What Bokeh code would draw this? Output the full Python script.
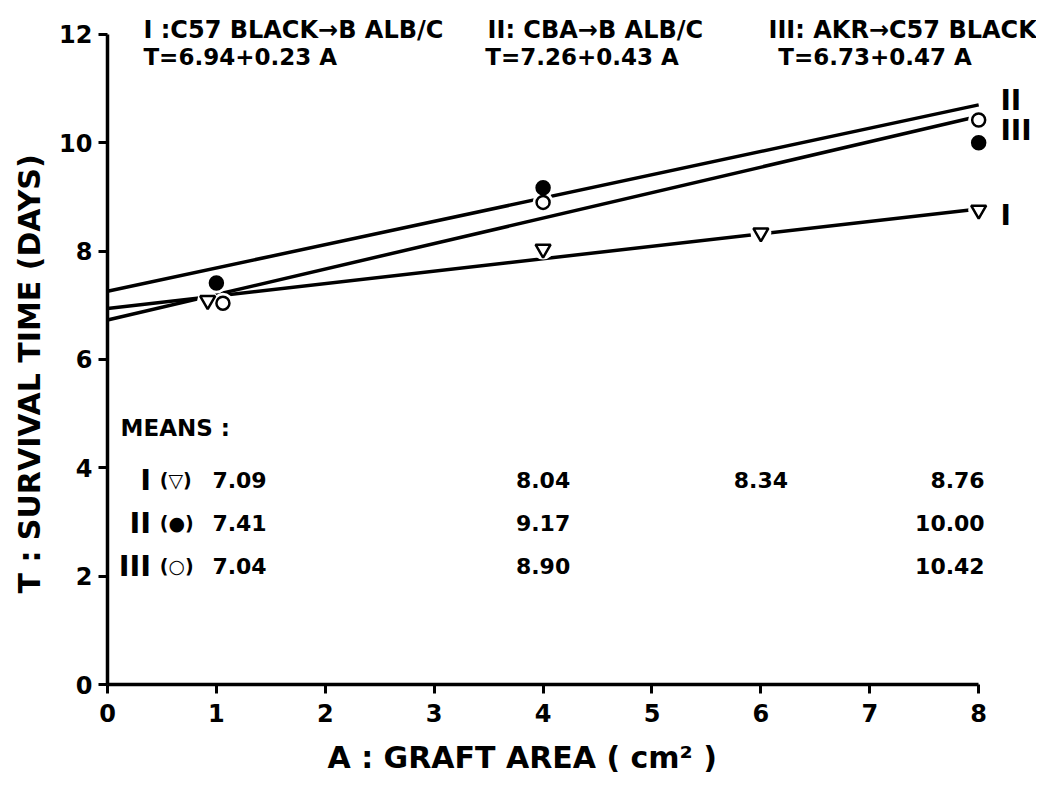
from bokeh.plotting import figure
from bokeh.models import Range1d, FixedTicker, Title
from bokeh.core.properties import value
from bokeh.embed import file_html
from bokeh.resources import INLINE

# ---------------- data ----------------
series = ["I", "II", "III"]
headers = ["I :C57 BLACK\u2192B ALB/C", "II: CBA\u2192B ALB/C", "III: AKR\u2192C57 BLACK"]
intercepts = [6.94, 7.26, 6.73]
slopes = [0.23, 0.43, 0.47]
symbols = ["\u25bd", "\u25cf", "\u25cb"]

A_I = [1, 4, 6, 8]
T_I = [7.09, 8.04, 8.34, 8.76]
A_II = [1, 4, 8]
T_II = [7.41, 9.17, 10.00]
A_III = [1, 4, 8]
T_III = [7.04, 8.90, 10.42]

x_ticks = [0, 1, 2, 3, 4, 5, 6, 7, 8]
y_ticks = [0, 2, 4, 6, 8, 10, 12]

FONT = "DejaVu Sans"
BLACK = "#000000"

p = figure(width=1036, height=788, x_range=Range1d(0, 8.531), y_range=Range1d(0, 12.627),
           output_backend="svg", toolbar_location=None,
           min_border_left=107, min_border_right=0, min_border_top=0, min_border_bottom=104)
p.outline_line_color = None
p.xgrid.visible = False
p.ygrid.visible = False

for ax, ticks, bounds in ((p.xaxis, x_ticks, (0, 8)), (p.yaxis, y_ticks, (0, 12))):
    ax.ticker = FixedTicker(ticks=ticks)
    ax.bounds = bounds
    ax.axis_line_width = 3.5
    ax.axis_line_color = BLACK
    ax.major_tick_line_width = 3
    ax.major_tick_line_color = BLACK
    ax.major_tick_out = 9
    ax.major_tick_in = 0
    ax.minor_tick_line_color = None
    ax.major_label_text_font = FONT
    ax.major_label_text_font_style = "bold"
    ax.major_label_text_font_size = "24px"
    ax.major_label_text_color = BLACK

p.xaxis.major_label_standoff = 10
p.yaxis.major_label_standoff = 6

# axis titles (off-centre, as in the original)
p.add_layout(Title(text="A : GRAFT AREA  ( cm\u00b2 )", align="left", offset=220, standoff=26,
                   text_font=FONT, text_font_style="bold", text_font_size="30px",
                   text_color=BLACK), "below")
p.add_layout(Title(text="T : SURVIVAL TIME (DAYS)", align="left", offset=91, standoff=19,
                   text_font=FONT, text_font_style="bold", text_font_size="30px",
                   text_color=BLACK), "left")

# ---------------- fitted lines ----------------
for a, b in zip(intercepts, slopes):
    xs = [x_ticks[0], x_ticks[-1]]
    p.line(xs, [a + b * x for x in xs], line_color=BLACK, line_width=3.5)

# ---------------- points ----------------
def nudge(xs, d):
    return [x + d if x == 1 else x for x in xs]

pts = [
    (nudge(A_I, -0.08), T_I, "inverted_triangle", "white"),
    (A_II, T_II, "circle", BLACK),
    (nudge(A_III, 0.06), T_III, "circle", "white"),
]
for xs, ys, m, fill in pts:
    p.scatter(xs, ys, marker="circle", size=21, fill_color="white", line_color=None)
for xs, ys, m, fill in pts:
    p.scatter(xs, ys, marker=m, size=13 if m == "circle" else 15, fill_color=fill,
              line_color=BLACK, line_width=2.5)

# ---------------- header texts ----------------
p.text(x=[0.33, 3.49, 6.07], y=[12.09] * 3, text=headers,
       text_font=value(FONT), text_font_style="bold", text_font_size="24px",
       text_color=BLACK, text_baseline="alphabetic", text_align="left")
p.text(x=[0.33, 3.47, 6.16], y=[11.58] * 3,
       text=[f"T={a:.2f}+{b:.2f} A" for a, b in zip(intercepts, slopes)],
       text_font=value(FONT), text_font_style="bold", text_font_size="23px",
       text_color=BLACK, text_baseline="alphabetic", text_align="left")

# labels at line ends
p.text(x=[8.20] * 3, y=[10.78, 10.23, 8.66], text=["II", "III", "I"],
       text_font=value(FONT), text_font_style="bold", text_font_size="28px",
       text_color=BLACK, text_baseline="middle", text_align="left")

# ---------------- means table ----------------
row_y = [3.78, 2.99, 2.18]
p.text(x=[0.12], y=[4.73], text=["MEANS :"], text_font=value(FONT), text_font_style="bold",
       text_font_size="23px", text_color=BLACK, text_baseline="middle")
p.text(x=[0.40] * 3, y=row_y, text=series, text_font=value(FONT), text_font_style="bold",
       text_font_size="29px", text_color=BLACK, text_baseline="middle", text_align="right")
p.text(x=[0.48] * 3, y=row_y, text=[f"({s})" for s in symbols], text_font=value(FONT),
       text_font_style="bold", text_font_size="19px", text_color=BLACK,
       text_baseline="middle", text_align="left")

for (A, T), ry in zip([(A_I, T_I), (A_II, T_II), (A_III, T_III)], row_y):
    for a, t in zip(A, T):
        if a == x_ticks[0] + 1:
            align, off = "left", -4
        elif a == x_ticks[-1]:
            align, off = "right", 6
        else:
            align, off = "center", 0
        p.text(x=[a], y=[ry], text=[f"{t:.2f}"], x_offset=off, text_font=value(FONT),
               text_font_style="bold", text_font_size="22px", text_color=BLACK,
               text_baseline="middle", text_align=align)

open("out.html", "w").write(file_html(p, INLINE))
